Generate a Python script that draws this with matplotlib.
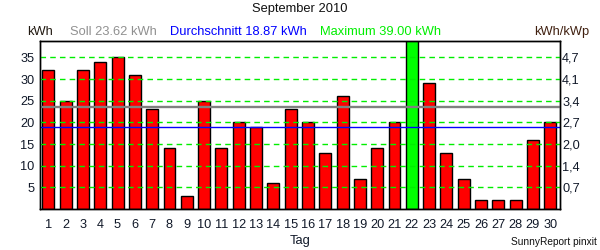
import matplotlib
matplotlib.use("Agg")
import matplotlib.pyplot as plt
import numpy as np

plt.rcParams['font.family'] = ['Liberation Sans', 'DejaVu Sans']

days = list(range(1, 31))
energy_kwh = [32, 25, 32, 34, 35, 31, 23, 14, 3, 25,
              14, 20, 19, 6, 23, 20, 13, 26, 7, 14,
              20, 39, 29, 13, 7, 2, 2, 2, 16, 20]
soll_kwh = 23.62
avg_kwh = 18.87
max_kwh = 39.00
left_ticks = [5, 10, 15, 20, 25, 30, 35]
right_tick_labels = ["0,7", "1,4", "2,0", "2,7", "3,4", "4,1", "4,7"]

fig = plt.figure(figsize=(6, 2.5), dpi=100)
ax = fig.add_axes([40/600, 1 - 209/250, 520/600, 168/250])

colors = ['#00ff00' if v == max(energy_kwh) else '#ff0000' for v in energy_kwh]
ax.bar(days, energy_kwh, width=0.69, color=colors, edgecolor='black', linewidth=1.0, zorder=2)

for t in left_ticks:
    ax.axhline(t, color='#00ee00', linestyle=(0, (4, 3)), linewidth=1.0, zorder=3)
ax.axhline(soll_kwh, color='#808080', linewidth=1.7, zorder=4)
ax.axhline(avg_kwh, color='#0000ff', linewidth=1.0, zorder=4)

ax.set_xlim(0.52, 30.56)
ax.set_ylim(0, 38.8)
ax.set_xticks(days)
ax.set_xticklabels([str(d) for d in days], fontsize=9.2, color='#101828')
ax.set_yticks(left_ticks)
ax.set_yticklabels([str(t) for t in left_ticks], fontsize=9.2, color='#101828')
ax.tick_params(axis='x', length=0, pad=7)
ax.tick_params(axis='y', length=0, pad=4)

ax2 = ax.twinx()
ax2.set_ylim(ax.get_ylim())
ax2.set_yticks(left_ticks)
ax2.set_yticklabels(right_tick_labels, fontsize=9.2, color='#101828')
ax2.tick_params(axis='y', length=0, pad=1.5)

for a in (ax, ax2):
    for s in a.spines.values():
        s.set_linewidth(1.0)
        s.set_color('black')

fs = 9.3
fig.text(0.5, 1 - 9/250, "September 2010", ha='center', va='center', fontsize=fs, color='#101010')
hy = 1 - 32/250
fig.text(27/600, hy, "kWh", ha='left', va='center', fontsize=fs, color='#201810')
fig.text(70/600, hy, "Soll %.2f kWh" % soll_kwh, ha='left', va='center', fontsize=fs, color='#909090')
fig.text(170/600, hy, "Durchschnitt %.2f kWh" % avg_kwh, ha='left', va='center', fontsize=fs, color='#0000ff')
fig.text(320/600, hy, "Maximum %.2f kWh" % max_kwh, ha='left', va='center', fontsize=fs, color='#00ee00')
fig.text(589/600, hy, "kWh/kWp", ha='right', va='center', fontsize=fs, color='#402010')
fig.text(300/600, 1 - 241/250, "Tag", ha='center', va='center', fontsize=fs, color='#101828')
fig.text(597/600, 1 - 242/250, "SunnyReport pinxit", ha='right', va='center', fontsize=7.3, color='#101010')

fig.savefig("out.png", dpi=100)
